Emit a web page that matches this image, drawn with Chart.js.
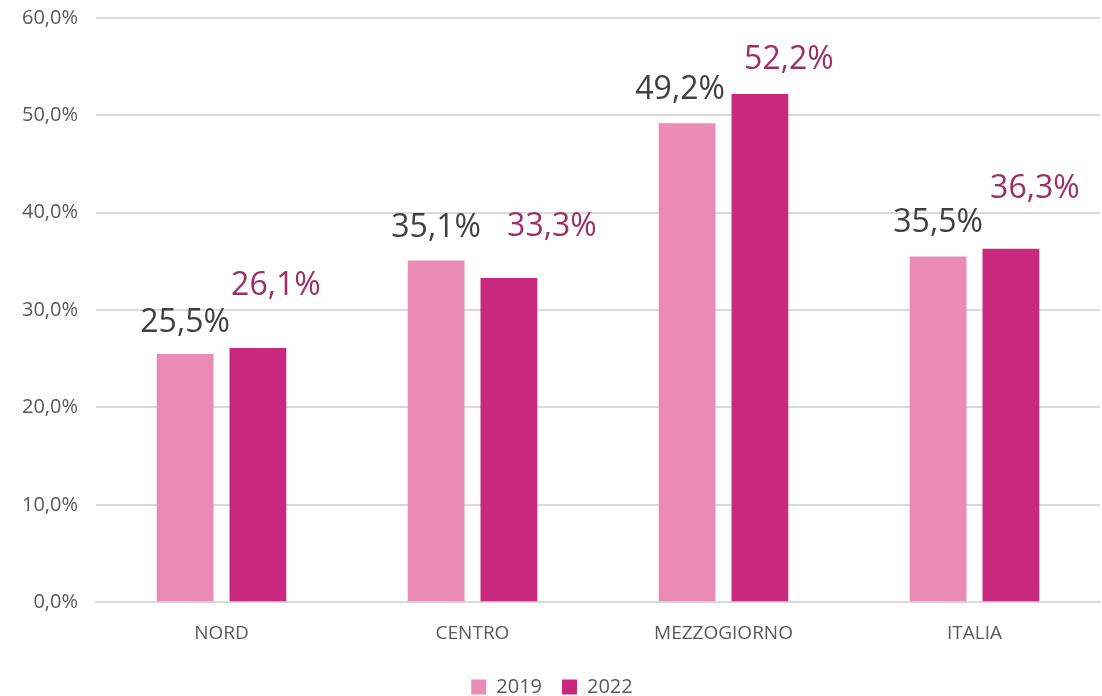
<!DOCTYPE html>
<html>
<head>
<meta charset="utf-8">
<script src="https://cdn.jsdelivr.net/npm/chart.js@4"></script>
<style>
  html, body { margin: 0; padding: 0; background: #fff; }
  #wrap { width: 1102px; height: 696px; }
</style>
</head>
<body>
<div id="wrap"><canvas id="chart" width="1102" height="696"></canvas></div>
<script>
"use strict";

// data
var categories = ["NORD", "CENTRO", "MEZZOGIORNO", "ITALIA"];
var values2019 = [0.255, 0.351, 0.492, 0.355];
var values2022 = [0.261, 0.333, 0.522, 0.363];
var seriesLabels = ["2019", "2022"];

var FONT = "'Open Sans', 'Noto Sans', sans-serif";

function pct(v) {
	return (v * 100).toFixed(1).replace(".", ",") + "%";
}

// value labels above bars (no datalabels plugin available)
var valueLabels = {
	id: "valueLabels",
	afterDatasetsDraw: function(chart, args, opts) {
		var ctx = chart.ctx;
		ctx.save();
		ctx.font = "32px " + FONT;
		ctx.textAlign = "center";
		ctx.textBaseline = "middle";
		chart.data.datasets.forEach(function(ds, di) {
			var meta = chart.getDatasetMeta(di);
			var shift = opts.shift[di];
			meta.data.forEach(function(bar, i) {
				ctx.fillStyle = opts.colors[di];
				ctx.fillText(pct(ds.data[i]), bar.x + shift[i][0], bar.y - shift[i][1]);
			});
		});
		ctx.restore();
	}
};

var ctx = document.getElementById("chart").getContext("2d");
new Chart(ctx, {
	type: "bar",
	data: {
		labels: categories,
		datasets: [
			{ label: seriesLabels[0], data: values2019, backgroundColor: "#E98BB4" },
			{ label: seriesLabels[1], data: values2022, backgroundColor: "#C9287F" }
		]
	},
	options: {
		responsive: false,
		animation: false,
		layout: { padding: { top: 0, right: 2, left: 4, bottom: -11 } },
		datasets: {
			bar: { categoryPercentage: 0.58, barPercentage: 0.78 }
		},
		scales: {
			x: {
				grid: { display: false },
				border: { color: "#d9d9d9", width: 2 },
				ticks: { color: "#595959", font: { family: FONT, size: 19 }, padding: 12 }
			},
			y: {
				min: 0,
				max: 0.6,
				afterFit: function(axis) {
					axis.width = 92;
					axis.paddingTop = 18;
				},
				border: { display: false },
				grid: { color: "#d9d9d9", lineWidth: 2, drawTicks: false },
				ticks: {
					stepSize: 0.1,
					padding: 18,
					color: "#595959",
					font: { family: FONT, size: 20 },
					callback: function(v) { return pct(v); }
				}
			}
		},
		plugins: {
			legend: {
				position: "bottom",
				labels: {
					color: "#595959",
					font: { family: FONT, size: 20 },
					boxWidth: 15,
					boxHeight: 15,
					padding: 20
				}
			},
			tooltip: { enabled: false },
			valueLabels: {
				colors: ["#404040", "#9E2F66"],
				shift: [
					[[0, 31], [0, 33], [-7, 33], [0, 34]],
					[[18, 62], [43, 51], [29, 34], [24, 60]]
				]
			}
		}
	},
	plugins: [valueLabels]
});
</script>
</body>
</html>
